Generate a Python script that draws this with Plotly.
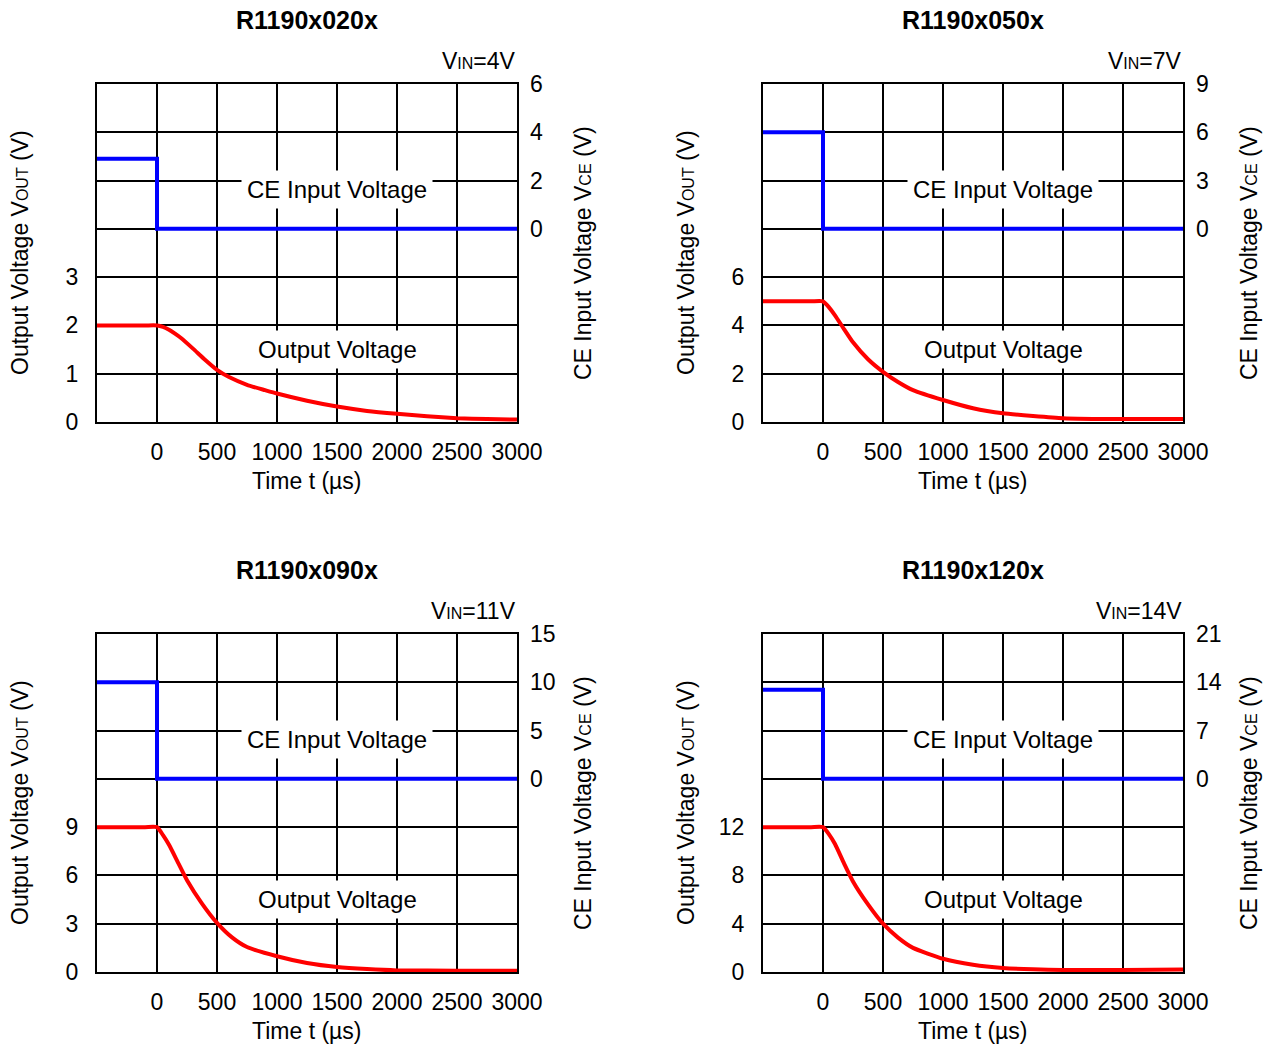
import plotly.graph_objects as go

W, H = 1273, 1048
FONT = "Liberation Sans, Arial, sans-serif"

# ---------------- data ----------------
titles = ["R1190x020x", "R1190x050x", "R1190x090x", "R1190x120x"]
vin_labels = ["4V", "7V", "11V", "14V"]
vout_steps = [1, 2, 3, 4]      # left-axis units per grid division
vce_steps = [2, 3, 5, 7]       # right-axis units per grid division

ce_t = [-500, 0, 0, 3000]
ce_v = [
    [2.9, 2.9, 0, 0],
    [6, 6, 0, 0],
    [10, 10, 0, 0],
    [12.9, 12.9, 0, 0],
]

out_t = [
    [-500, -100, 0, 50, 100, 150, 200, 300, 400, 500, 600, 750, 900, 1000, 1250, 1500, 1750, 2000, 2250, 2500, 2750, 3000],
    [-500, -100, 0, 50, 100, 175, 250, 375, 500, 625, 750, 1000, 1250, 1500, 1750, 2000, 2500, 3000],
    [-500, -100, 0, 50, 100, 175, 250, 375, 500, 625, 750, 1000, 1250, 1500, 1750, 2000, 2500, 3000],
    [-500, -100, 0, 50, 100, 175, 250, 375, 500, 625, 750, 1000, 1250, 1500, 1750, 2000, 2500, 3000],
]
out_v = [
    [2.0, 2.0, 2.0, 1.97, 1.91, 1.83, 1.74, 1.52, 1.29, 1.08, 0.93, 0.77, 0.66, 0.59, 0.44, 0.32, 0.23, 0.17, 0.12, 0.08, 0.06, 0.05],
    [5.0, 5.0, 5.0, 4.75, 4.42, 3.85, 3.3, 2.6, 2.08, 1.66, 1.32, 0.91, 0.57, 0.36, 0.25, 0.16, 0.12, 0.12],
    [9.0, 9.0, 9.0, 8.5, 7.9, 6.8, 5.7, 4.25, 3.05, 2.15, 1.55, 0.98, 0.56, 0.31, 0.18, 0.1, 0.08, 0.08],
    [12.0, 12.0, 12.0, 11.4, 10.6, 9.0, 7.5, 5.6, 4.0, 2.85, 2.0, 1.1, 0.6, 0.33, 0.22, 0.17, 0.17, 0.2],
]
x_ticks = [0, 500, 1000, 1500, 2000, 2500, 3000]

# ---------------- layout geometry (pixels) ----------------
cols = [(97, 517), (763, 1183)]
rows = [(84, 422), (634, 972)]

def px(x):
    return x / W

def py(y):
    return 1 - y / H

fig = go.Figure()
annotations = []
layout = {}

for i in range(4):
    r, c = divmod(i, 2)
    x0, x1 = cols[c]
    y0, y1 = rows[r]
    xa = "x" if i == 0 else f"x{i+1}"
    ya_n = 2 * i + 1
    yb_n = 2 * i + 2
    ya = "y" if ya_n == 1 else f"y{ya_n}"
    yb = f"y{yb_n}"
    s = vout_steps[i]
    s2 = vce_steps[i]

    fig.add_trace(go.Scatter(x=ce_t, y=ce_v[i], mode="lines",
                             line=dict(color="#0000ff", width=4),
                             xaxis=xa, yaxis=yb, showlegend=False))
    fig.add_trace(go.Scatter(x=out_t[i], y=out_v[i], mode="lines",
                             line=dict(color="#ff0000", width=4, shape="spline", smoothing=0.5),
                             xaxis=xa, yaxis=ya, showlegend=False))

    xkey = "xaxis" if i == 0 else f"xaxis{i+1}"
    yakey = "yaxis" if ya_n == 1 else f"yaxis{ya_n}"
    ybkey = f"yaxis{yb_n}"

    layout[xkey] = dict(
        domain=[px(x0), px(x1)], range=[-500, 3000], anchor=ya,
        tickvals=x_ticks, ticktext=[str(v) for v in x_ticks],
        showgrid=True, gridcolor="black", gridwidth=1.6,
        showline=True, linecolor="black", linewidth=2, mirror=True,
        ticks="", ticklabelstandoff=8, zeroline=False, automargin=False,
        tickfont=dict(family=FONT, size=23, color="black"),
    )
    yvals = [k * s for k in range(8)]
    layout[yakey] = dict(
        domain=[py(y1), py(y0)], range=[0, 7 * s], anchor=xa,
        tickvals=yvals, ticktext=[str(v) if v <= 3 * s else "" for v in yvals],
        showgrid=True, gridcolor="black", gridwidth=1.6,
        showline=True, linecolor="black", linewidth=2, mirror=True,
        ticks="", ticklabelstandoff=12, zeroline=False, automargin=False,
        tickfont=dict(family=FONT, size=23, color="black"),
    )
    layout[ybkey] = dict(
        range=[-4 * s2, 3 * s2], overlaying=ya, anchor=xa, side="right",
        tickvals=[0, s2, 2 * s2, 3 * s2],
        showgrid=False, showline=False, zeroline=False, automargin=False,
        ticks="", ticklabelstandoff=12,
        tickfont=dict(family=FONT, size=23, color="black"),
    )

    cx = (x0 + x1) / 2
    common = dict(xref="paper", yref="paper", showarrow=False,
                  xanchor="center", yanchor="middle")
    # panel title
    annotations.append(dict(text=f"<b>{titles[i]}</b>", x=px(cx), y=py(y0 - 64),
                            font=dict(family=FONT, size=25, color="black"), **common))
    # VIN label
    annotations.append(dict(text=f"V<span style='font-size:16px'>IN</span>={vin_labels[i]}",
                            x=px(x1 + 1), y=py(y0 - 23),
                            font=dict(family=FONT, size=23, color="black"),
                            **{**common, "xanchor": "right"}))
    # left axis title
    annotations.append(dict(text="Output Voltage V<span style='font-size:16px'>OUT</span> (V)",
                            x=px(x0 - 77), y=py((y0 + y1) / 2), textangle=-90,
                            font=dict(family=FONT, size=23, color="black"), **common))
    # right axis title
    annotations.append(dict(text="CE Input Voltage V<span style='font-size:16px'>CE</span> (V)",
                            x=px(x1 + 66), y=py((y0 + y1) / 2), textangle=-90,
                            font=dict(family=FONT, size=23, color="black"), **common))
    # x axis title
    annotations.append(dict(text="Time t (µs)", x=px(cx), y=py(y1 + 59),
                            font=dict(family=FONT, size=23, color="black"), **common))
    # in-plot labels
    annotations.append(dict(text="CE Input Voltage", x=1500, y=0.687,
                            xref=xa, yref=f"{ya} domain", showarrow=False,
                            xanchor="center", yanchor="middle",
                            bgcolor="white", borderpad=5,
                            font=dict(family=FONT, size=24, color="black")))
    annotations.append(dict(text="Output Voltage", x=1500, y=0.215,
                            xref=xa, yref=f"{ya} domain", showarrow=False,
                            xanchor="center", yanchor="middle",
                            bgcolor="white", borderpad=5,
                            font=dict(family=FONT, size=24, color="black")))

fig.update_layout(
    width=W, height=H,
    margin=dict(l=0, r=0, t=0, b=0, autoexpand=False),
    paper_bgcolor="white", plot_bgcolor="white",
    annotations=annotations,
    showlegend=False,
)
fig.update_layout(**layout)

fig.write_html("out.html", config={"displayModeBar": False},
               post_script="document.body.style.margin='0';document.body.style.overflow='hidden';")
